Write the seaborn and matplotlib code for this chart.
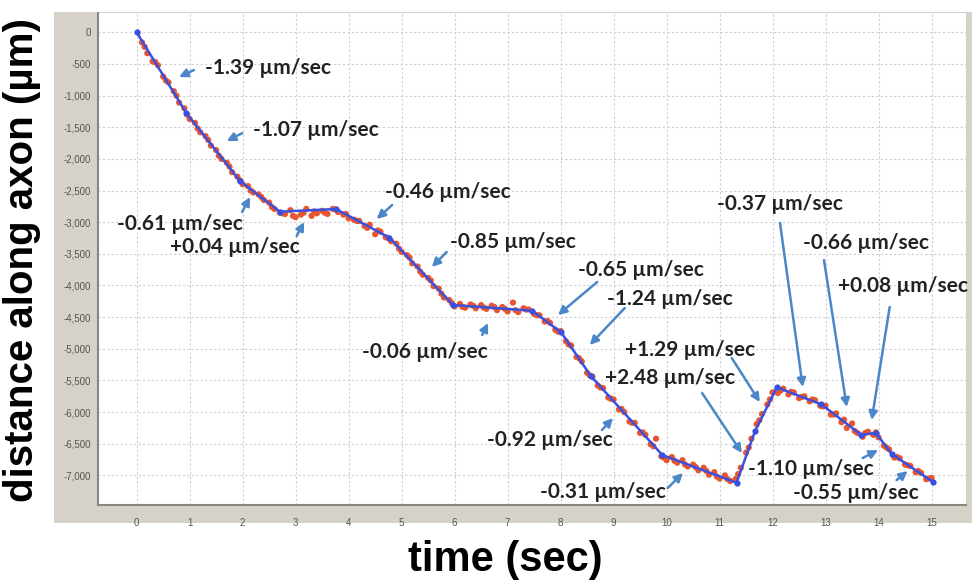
import numpy as np
import pandas as pd
import matplotlib
matplotlib.use("Agg")
import matplotlib.pyplot as plt
from matplotlib.patches import Rectangle
import seaborn as sns

# ---- data ----
fit_time = [0, 0.94, 1.95, 2.70, 3.76, 4.77, 5.97, 7.46, 8.01, 8.57, 9.92,
            11.32, 11.67, 12.08, 12.92, 13.67, 13.95, 14.25, 15.02]
fit_dist = [0, -1280, -2350, -2834, -2792, -3245, -4309, -4398, -4740, -5430,
            -6679, -7116, -6300, -5609, -5878, -6358, -6331, -6663, -7100]

obs_time = [0.1, 0.2, 0.3, 0.4, 0.5, 0.6, 0.7, 0.8, 0.9, 1.0,
            1.1, 1.2, 1.3, 1.4, 1.5, 1.6, 1.7, 1.8, 1.9, 2.0,
            2.1, 2.2, 2.3, 2.4, 2.5, 2.6, 2.7, 2.8, 2.9, 3.0,
            3.1, 3.2, 3.3, 3.4, 3.5, 3.6, 3.7, 3.8, 3.9, 4.0,
            4.1, 4.2, 4.3, 4.4, 4.5, 4.6, 4.7, 4.8, 4.9, 5.0,
            5.1, 5.2, 5.3, 5.4, 5.5, 5.6, 5.7, 5.8, 5.9, 6.0,
            6.1, 6.2, 6.3, 6.4, 6.5, 6.6, 6.7, 6.8, 6.9, 7.0,
            7.1, 7.2, 7.3, 7.4, 7.5, 7.6, 7.7, 7.8, 7.9, 8.0,
            8.1, 8.2, 8.3, 8.4, 8.5, 8.6, 8.7, 8.8, 8.9, 9.0,
            9.1, 9.2, 9.3, 9.4, 9.5, 9.6, 9.7, 9.8, 9.9, 10.0,
            10.1, 10.2, 10.3, 10.4, 10.5, 10.6, 10.7, 10.8, 10.9, 11.0,
            11.1, 11.2, 11.3, 11.4, 11.5, 11.6, 11.7, 11.8, 11.9, 12.0,
            12.1, 12.2, 12.3, 12.4, 12.5, 12.6, 12.7, 12.8, 12.9, 13.0,
            13.1, 13.2, 13.3, 13.4, 13.5, 13.6, 13.7, 13.8, 13.9, 14.0,
            14.1, 14.2, 14.3, 14.4, 14.5, 14.6, 14.7, 14.8, 14.9, 15.0]
obs_dist = [-160, -330, -460, -520, -700, -790, -930, -1110, -1200, -1370,
            -1430, -1580, -1640, -1790, -1860, -2000, -2060, -2210, -2280, -2400,
            -2430, -2530, -2560, -2650, -2690, -2790, -2850, -2870, -2810, -2920,
            -2880, -2790, -2900, -2860, -2820, -2870, -2790, -2840, -2880, -2940,
            -2960, -2980, -3060, -3040, -3190, -3150, -3240, -3300, -3340, -3470,
            -3520, -3650, -3700, -3830, -3880, -4010, -4050, -4190, -4230, -4330,
            -4290, -4350, -4300, -4360, -4310, -4370, -4320, -4390, -4340, -4410,
            -4270, -4420, -4360, -4380, -4450, -4470, -4570, -4590, -4700, -4720,
            -4880, -4950, -5130, -5200, -5380, -5440, -5580, -5620, -5770, -5800,
            -5960, -6000, -6150, -6170, -6330, -6360, -6510, -6420, -6700, -6760,
            -6710, -6800, -6760, -6860, -6830, -6920, -6880, -6990, -6950, -7050,
            -7000, -7090, -7060, -6880, -6640, -6420, -6190, -6030, -5880, -5690,
            -5700, -5630, -5720, -5690, -5780, -5750, -5830, -5810, -5900, -5900,
            -6040, -6020, -6160, -6250, -6180, -6330, -6390, -6310, -6360, -6400,
            -6530, -6590, -6720, -6730, -6830, -6850, -6950, -6960, -7060, -7040]

# additional samples between the ones above
obs_time_b = [0.15, 0.35, 0.55, 0.75, 0.95, 1.15, 1.35, 1.55, 1.75, 1.95,
              2.15, 2.35, 2.55, 2.75, 2.95, 3.15, 3.35, 3.55, 3.75, 3.95,
              4.15, 4.35, 4.55, 4.75, 4.95, 5.15, 5.35, 5.55, 5.75, 5.95,
              6.15, 6.35, 6.55, 6.75, 6.95, 7.15, 7.35, 7.55, 7.75, 7.95,
              8.15, 8.35, 8.55, 8.75, 8.95, 9.15, 9.35, 9.55, 9.75, 9.95,
              10.15, 10.35, 10.55, 10.75, 10.95, 11.15, 11.35, 11.55, 11.75, 11.95,
              12.15, 12.35, 12.55, 12.75, 12.95, 13.15, 13.35, 13.55, 13.75, 13.95,
              14.15, 14.35, 14.55, 14.75, 14.95]
obs_dist_b = [-230, -470, -760, -1000, -1300, -1520, -1700, -1950, -2120, -2340,
              -2500, -2600, -2760, -2860, -2900, -2850, -2830, -2850, -2800, -2870,
              -2980, -3090, -3130, -3250, -3420, -3560, -3780, -3920, -4130, -4280,
              -4340, -4320, -4350, -4340, -4370, -4390, -4380, -4470, -4560, -4730,
              -4930, -5150, -5420, -5610, -5790, -5950, -6170, -6320, -6540, -6720,
              -6770, -6830, -6870, -6930, -7020, -7060, -6980, -6560, -6130, -5800,
              -5660, -5680, -5760, -5800, -5910, -6040, -6120, -6300, -6330, -6320,
              -6560, -6710, -6840, -6930, -7050]

x_ticks = list(range(0, 16))
y_ticks = list(range(0, -7001, -500))

speed_labels = ["-1.39 µm/sec", "-1.07 µm/sec", "-0.61 µm/sec", "+0.04 µm/sec",
                "-0.46 µm/sec", "-0.85 µm/sec", "-0.06 µm/sec", "-0.65 µm/sec",
                "-1.24 µm/sec", "+1.29 µm/sec", "+2.48 µm/sec", "-0.92 µm/sec",
                "-0.31 µm/sec", "-0.37 µm/sec", "-0.66 µm/sec", "+0.08 µm/sec",
                "-1.10 µm/sec", "-0.55 µm/sec"]

# annotation layout (data coords): text anchor (left, center), arrow tail, arrow head
label_pos = [(1.29, -564), (2.19, -1545), (-0.37, -3029), (0.63, -3392),
             (4.68, -2523), (5.91, -3313), (4.25, -5051), (8.33, -3756),
             (8.87, -4214), (9.21, -5020), (8.84, -5462), (6.61, -6442),
             (7.61, -7264), (10.95, -2713), (12.57, -3329), (13.23, -4008),
             (11.53, -6900), (12.38, -7279)]
arrow_tail = [(1.08, -596), (1.99, -1593), (1.99, -2839), (3.02, -3218),
              (4.82, -2729), (5.85, -3471), (6.52, -4783), (8.69, -3945),
              (9.21, -4356), (11.23, -5146), (10.67, -5699), (8.78, -6284),
              (10.02, -7200), (12.14, -3013), (12.97, -3598), (14.21, -4340),
              (13.70, -6726), (14.34, -7074)]
arrow_head = [(0.80, -706), (1.70, -1719), (2.14, -2602), (3.16, -2997),
              (4.53, -2950), (5.57, -3708), (6.63, -4593), (7.95, -4467),
              (8.55, -4940), (11.76, -5841), (11.42, -6647), (8.99, -6094),
              (10.31, -6963), (12.57, -5604), (13.40, -5920), (13.87, -6125),
              (13.99, -6600), (14.55, -6932)]

obs = pd.DataFrame({"time": obs_time + obs_time_b, "dist": obs_dist + obs_dist_b})
fit = pd.DataFrame({"time": fit_time, "dist": fit_dist})

sns.set_style("white")
plt.rcParams["font.family"] = ["Liberation Sans", "DejaVu Sans"]

W, H = 972, 583
fig = plt.figure(figsize=(W / 100, H / 100), dpi=100)
fig.patch.set_facecolor("white")

# grey frame behind the plot (screenshot look)
fig.add_artist(Rectangle((54 / W, 1 - 523 / H), 1 - 54 / W, (523 - 12) / H,
                         transform=fig.transFigure, facecolor="#d6d2ca",
                         edgecolor="none", zorder=0))

ax = fig.add_axes([98 / W, 1 - 505 / H, (966 - 98) / W, (505 - 13) / H])
ax.set_facecolor("white")
ax.set_zorder(1)

sns.scatterplot(data=obs, x="time", y="dist", ax=ax, color="#e8552e", s=20,
                edgecolor="none", zorder=3, legend=False)
sns.lineplot(data=fit, x="time", y="dist", ax=ax, color="#3a50e0", lw=1.8,
             marker="o", markersize=4.5, markeredgewidth=0, sort=False,
             zorder=4, legend=False)

ax.set_xlim(-0.73, 15.65)
ax.set_ylim(-7468, 305)
ax.set_xticks(x_ticks)
ax.set_yticks(y_ticks)
ax.set_xticklabels([str(t) for t in x_ticks])
ax.set_yticklabels([f"{t:,}" for t in y_ticks])
ax.tick_params(axis="both", labelsize=7, colors="#555555", length=3, width=0.8,
               direction="out")
ax.tick_params(axis="x", pad=6)
ax.tick_params(axis="y", pad=2)
ax.grid(True, color="#cfcfcf", linestyle=(0, (2, 2)), linewidth=0.8)
ax.set_axisbelow(True)
for side in ["top", "right"]:
    ax.spines[side].set_visible(False)
for side in ["left", "bottom"]:
    ax.spines[side].set_color("#8a8780")
    ax.spines[side].set_linewidth(1.5)
ax.set_xlabel("")
ax.set_ylabel("")

for lab, pos, tail, head in zip(speed_labels, label_pos, arrow_tail, arrow_head):
    ax.text(pos[0], pos[1], lab, ha="left", va="center", fontsize=15,
            fontweight="bold", color="#222222", family=["Lato", "DejaVu Sans"],
            zorder=6)
    ax.annotate("", xy=head, xytext=tail,
                arrowprops=dict(arrowstyle="-|>,head_length=0.5,head_width=0.25",
                                color="#4a86c8", lw=1.8, shrinkA=0, shrinkB=0),
                zorder=5)

fig.text(22 / W, 1 - 260 / H, "distance along axon (µm)", rotation=90,
         ha="center", va="center", fontsize=29, fontweight="bold", color="black")
fig.text(505 / W, 1 - 560 / H, "time (sec)", ha="center", va="center",
         fontsize=30, fontweight="bold", color="black")

fig.savefig("out.png", dpi=100, facecolor="white")
